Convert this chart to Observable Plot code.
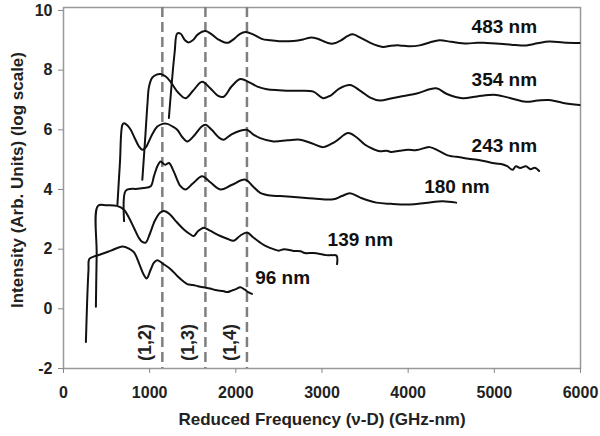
<!DOCTYPE html>
<html>
<head>
<meta charset="utf-8">
<script src="https://cdn.jsdelivr.net/npm/d3@7"></script>
<script src="https://cdn.jsdelivr.net/npm/@observablehq/plot@0.6"></script>
<style>
  html, body { margin: 0; padding: 0; background: #fff; }
  #chart { width: 600px; height: 436px; }
</style>
</head>
<body>
<div id="chart"></div>
<script>
// ---- data (x = reduced frequency GHz-nm, y = log intensity) ----
const s483 = [[1223,6.4],[1290,8.6],[1320,9.23],[1360,9.22],[1410,9.0],[1450,8.93],[1500,9.0],[1560,9.2],[1647,9.31],[1720,9.2],[1800,9.02],[1870,8.93],[1912,8.92],[1980,9.05],[2050,9.22],[2111,9.28],[2200,9.2],[2300,9.05],[2399,9.0],[2500,8.97],[2669,8.98],[2780,9.03],[2861,9.09],[2950,9.05],[3050,8.93],[3127,8.89],[3220,9.0],[3300,9.15],[3358,9.2],[3450,9.08],[3550,8.93],[3705,8.78],[3800,8.82],[3902,8.83],[4000,8.8],[4133,8.83],[4250,8.93],[4364,9.0],[4500,8.95],[4676,8.89],[4800,8.92],[4908,8.91],[5100,8.88],[5250,8.84],[5370,8.83],[5500,8.9],[5636,8.96],[5800,8.93],[5990,8.91]];
const s354 = [[915,4.33],[950,5.8],[975,6.9],[992,7.44],[1030,7.75],[1080,7.85],[1127,7.87],[1190,7.78],[1243,7.61],[1330,7.25],[1416,7.06],[1500,7.3],[1609,7.61],[1700,7.4],[1790,7.15],[1859,7.11],[1950,7.45],[2052,7.7],[2150,7.6],[2250,7.45],[2360,7.36],[2500,7.33],[2668,7.31],[2746,7.31],[2900,7.28],[3012,7.06],[3100,7.15],[3200,7.38],[3324,7.5],[3450,7.3],[3560,7.08],[3671,6.98],[3800,7.05],[3902,7.11],[4100,7.22],[4326,7.39],[4450,7.2],[4630,7.06],[4800,7.12],[5020,7.17],[5200,7.05],[5366,6.94],[5500,6.98],[5636,7.0],[5800,6.9],[5990,6.83]];
const s243 = [[626,3.5],[655,4.9],[684,6.17],[703,6.22],[740,6.15],[780,6.0],[830,5.7],[876,5.44],[915,5.33],[950,5.4],[973,5.5],[1030,5.85],[1089,6.11],[1150,6.2],[1205,6.2],[1260,6.12],[1320,6.0],[1380,5.75],[1436,5.61],[1520,5.82],[1600,6.1],[1647,6.17],[1720,6.0],[1800,5.75],[1859,5.67],[1950,5.85],[2050,5.97],[2129,6.0],[2200,5.85],[2283,5.72],[2437,5.61],[2600,5.65],[2746,5.67],[2880,5.55],[3015,5.42],[3150,5.6],[3304,5.89],[3400,5.75],[3500,5.5],[3600,5.35],[3671,5.28],[3750,5.3],[3800,5.26],[3902,5.3],[4000,5.33],[4100,5.32],[4249,5.42],[4350,5.3],[4450,5.15],[4518,5.11],[4600,5.08],[4700,5.03],[4800,5.0],[4904,4.94],[5000,4.88],[5100,4.84],[5150,4.78],[5212,4.66],[5250,4.78],[5300,4.72],[5366,4.78],[5420,4.68],[5470,4.73],[5520,4.62]];
const s180 = [[703,2.94],[720,3.95],[780,4.02],[838,4.02],[930,4.05],[1012,4.11],[1050,4.45],[1089,4.78],[1127,4.94],[1160,4.86],[1185,4.83],[1224,4.89],[1280,4.6],[1358,4.11],[1416,4.0],[1500,4.2],[1609,4.44],[1700,4.25],[1821,4.0],[1950,4.15],[2110,4.33],[2200,4.1],[2283,3.89],[2400,3.8],[2514,3.78],[2746,3.73],[2900,3.7],[3131,3.67],[3230,3.78],[3324,3.87],[3450,3.72],[3632,3.56],[3800,3.52],[4017,3.5],[4200,3.55],[4402,3.61],[4557,3.56]];
const s139 = [[376,0.07],[385,1.8],[400,3.45],[500,3.47],[620,3.45],[700,3.33],[760,3.05],[820,2.7],[870,2.4],[910,2.25],[954,2.22],[1000,2.5],[1060,2.95],[1120,3.22],[1166,3.28],[1230,3.18],[1300,2.95],[1400,2.65],[1470,2.5],[1512,2.44],[1560,2.6],[1628,2.72],[1700,2.62],[1821,2.44],[1900,2.35],[1975,2.28],[2050,2.45],[2129,2.56],[2200,2.4],[2283,2.22],[2350,2.1],[2437,2.0],[2500,1.95],[2560,2.0],[2668,1.94],[2750,1.93],[2800,1.87],[2900,1.87],[2980,1.84],[3050,1.8],[3120,1.8],[3170,1.78],[3175,1.5]];
const s96 = [[260,-1.11],[275,0.3],[290,1.3],[299,1.67],[350,1.75],[434,1.83],[550,1.95],[684,2.09],[760,2.02],[819,1.89],[880,1.5],[930,1.15],[965,1.02],[1010,1.3],[1050,1.55],[1089,1.63],[1160,1.5],[1243,1.33],[1320,1.1],[1400,0.9],[1436,0.83],[1500,0.8],[1560,0.76],[1628,0.72],[1700,0.68],[1780,0.62],[1850,0.6],[1898,0.56],[1960,0.62],[2000,0.66],[2052,0.72],[2100,0.65],[2150,0.55],[2187,0.5]];

const seriesNames = ["483 nm", "354 nm", "243 nm", "180 nm", "139 nm", "96 nm"];
const seriesPoints = [s483, s354, s243, s180, s139, s96];
const labelX = [5116, 5116, 5116, 4566, 3445, 2543];
const labelY = [9.45, 7.68, 5.47, 4.07, 2.3, 1.02];

const modeX = [1147, 1647, 2129];
const modeLabels = ["(1,2)", "(1,3)", "(1,4)"];

const xTicks = [0, 1000, 2000, 3000, 4000, 5000, 6000];
const yTicks = [-2, 0, 2, 4, 6, 8, 10];
const xTitle = "Reduced Frequency (ν-D) (GHz-nm)";
const yTitle = "Intensity (Arb. Units) (log scale)";

// ---- build tables ----
const lineData = seriesPoints.flatMap((pts, i) => pts.map(([x, y]) => ({series: seriesNames[i], x, y})));
const labelData = seriesNames.map((name, i) => ({name, x: labelX[i], y: labelY[i]}));
const modeData = modeX.map((x, i) => ({x, label: modeLabels[i]}));

const FONT = "'Liberation Sans', Arial, Helvetica, sans-serif";

const chart = Plot.plot({
  width: 600,
  height: 436,
  marginLeft: 63,
  marginRight: 20,
  marginTop: 7,
  marginBottom: 68,
  style: {fontFamily: FONT, background: "#fff", color: "#222"},
  x: {domain: [0, 6000], ticks: xTicks, tickFormat: d => String(d), label: null},
  y: {domain: [-2, 10.1], ticks: yTicks, tickFormat: d => String(d), label: null},
  marks: [
    Plot.frame({stroke: "#999", strokeWidth: 1.5}),
    Plot.axisX({ticks: xTicks, tickFormat: d => String(d), tickSize: 5, tickPadding: 13, fontSize: 16, fontWeight: "bold", stroke: "#888", label: null, fill: "#222"}),
    Plot.axisY({ticks: yTicks, tickFormat: d => String(d), tickSize: 5, tickPadding: 6, fontSize: 16, fontWeight: "bold", stroke: "#888", label: null, fill: "#222"}),
    Plot.ruleX(modeData, {x: "x", stroke: "#7f7f7f", strokeWidth: 2.5, strokeDasharray: "10,5"}),
    Plot.text(modeData, {x: "x", text: "label", frameAnchor: "bottom", dx: -17, dy: -26, rotate: -90, textAnchor: "middle", lineAnchor: "middle", fontSize: 18, fontWeight: "bold", fill: "#222"}),
    Plot.line(lineData, {x: "x", y: "y", z: "series", stroke: "#111", strokeWidth: 2, curve: "catmull-rom"}),
    Plot.text(labelData, {x: "x", y: "y", text: "name", fontSize: 19, fontWeight: "bold", fill: "#111"}),
    Plot.text([xTitle], {frameAnchor: "bottom", dy: 51, textAnchor: "middle", lineAnchor: "middle", fontSize: 17, fontWeight: "bold", fill: "#222"}),
    Plot.text([yTitle], {frameAnchor: "left", dx: -46, dy: -8, rotate: -90, textAnchor: "middle", lineAnchor: "middle", fontSize: 17, fontWeight: "bold", fill: "#222"})
  ]
});
document.getElementById("chart").appendChild(chart);
</script>
</body>
</html>
